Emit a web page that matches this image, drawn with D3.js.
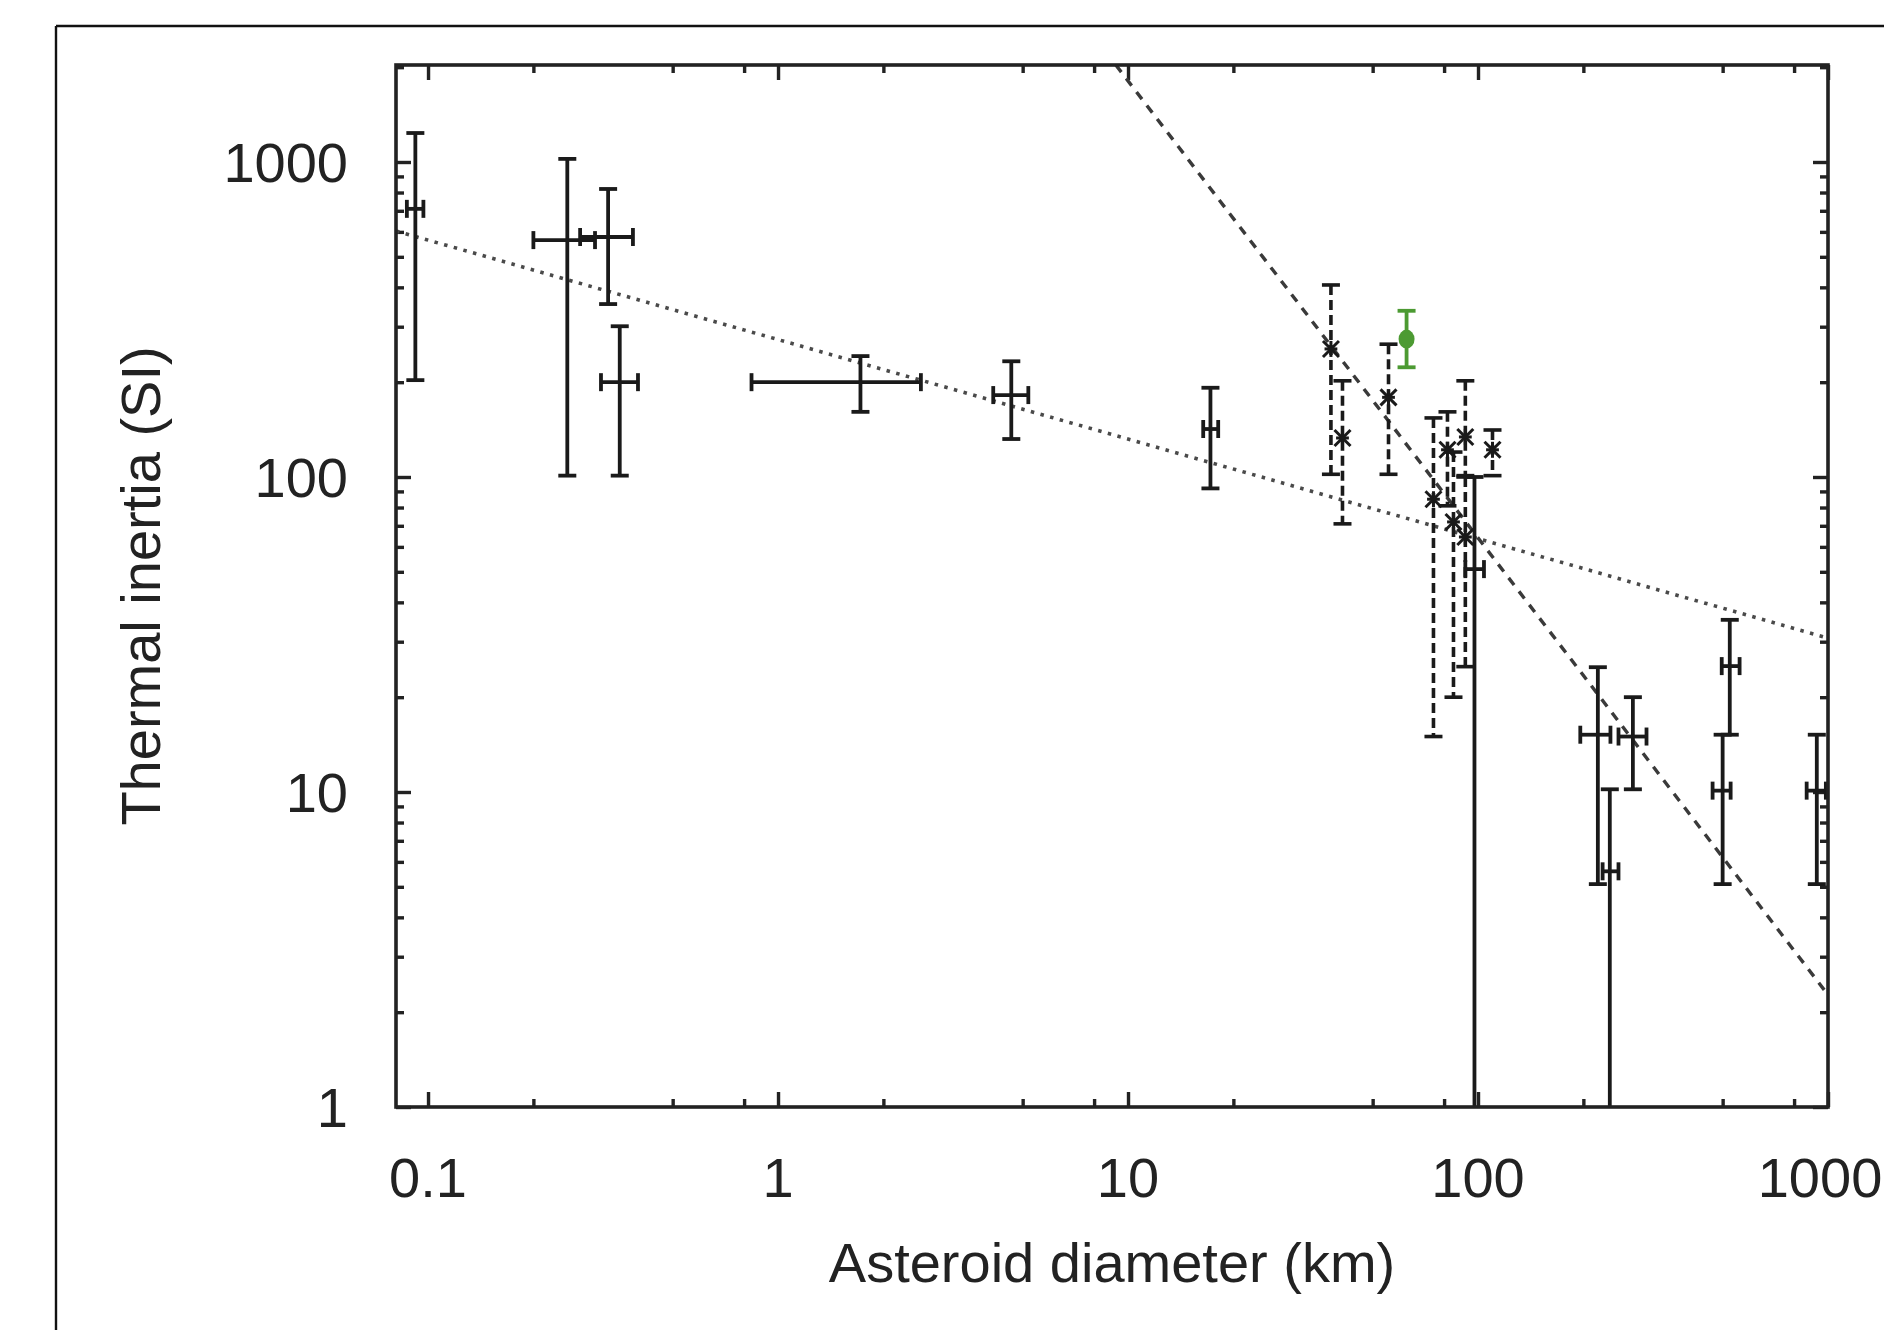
<!DOCTYPE html>
<html>
<head>
<meta charset="utf-8">
<script src="https://cdn.jsdelivr.net/npm/d3@7"></script>
<style>
  html, body { margin: 0; padding: 0; background: #fff; }
  svg { display: block; }
  text { font-family: "Liberation Sans", Arial, Helvetica, sans-serif; fill: #222; }
</style>
</head>
<body>
<svg id="chart" width="1884" height="1330"></svg>
<script>
// ---------------- DATA ----------------
// Solid error bars: [D, Dlo, Dhi, TI, TIlo, TIhi]
const solidPoints = [
  [0.092, 0.087, 0.097, 710, 203, 1236],
  [0.25, 0.20, 0.30, 565, 101, 1023],
  [0.327, 0.272, 0.385, 578, 354, 821],
  [0.353, 0.312, 0.398, 200, 101, 301],
  [1.72, 0.84, 2.56, 200, 161, 242],
  [4.64, 4.12, 5.19, 182, 132, 233],
  [17.2, 16.4, 18.1, 142, 92, 192],
  [97.7, 92, 104, 51, 1, 100],
  [220, 196, 239, 15.2, 5.1, 24.9],
  [238, 227, 252, 5.6, 1, 10.2],
  [277, 252, 303, 15, 10.2, 20],
  [500, 468, 527, 10.1, 5.1, 15.2],
  [524, 497, 559, 25.1, 15.2, 35.2],
  [929, 869, 986, 10.1, 5.1, 15.2]
];
// Dashed error bars with asterisk markers: [D, TI, TIlo, TIhi]
const dashedPoints = [
  [38.0, 255, 102, 407],
  [41.0, 133, 71, 202],
  [55.5, 179, 102, 264],
  [74.6, 85, 15, 154],
  [81.8, 122, 81, 161],
  [85.1, 72, 20, 120],
  [92.0, 134, 101, 202],
  [92.0, 64.5, 25, 100],
  [110, 122, 101, 141]
];
// Highlighted (green) point: [D, TI, TIlo, TIhi]
const greenPoints = [
  [62.5, 274, 223, 337]
];
// Fit lines (endpoints): [D, TI]
const fitDotted = [[0.081, 604], [1000, 30.8]];
const fitDashed = [[9.23, 2032], [1000, 2.27]];

const xMajorTicks = [0.1, 1, 10, 100, 1000];
const xTickLabels = ["0.1", "1", "10", "100", "1000"];
const yMajorTicks = [1, 10, 100, 1000];
const yTickLabels = ["1", "10", "100", "1000"];
const xMinorMult = [2, 5, 8];
const yMinorMult = [2, 3, 4, 5, 6, 7, 8, 9];

const xDomain = [0.081, 1000];
const yDomain = [1, 2032];

// ---------------- LAYOUT ----------------
const L = 396, R = 1828, T = 65, B = 1107;
const svg = d3.select("#chart");
const x = d3.scaleLog().domain(xDomain).range([L, R]);
const y = d3.scaleLog().domain(yDomain).range([B, T]);

// outer frame (top + left lines)
svg.append("line").attr("x1", 56).attr("x2", 1884).attr("y1", 26).attr("y2", 26)
  .attr("stroke", "#111").attr("stroke-width", 2.4);
svg.append("line").attr("x1", 56).attr("x2", 56).attr("y1", 26).attr("y2", 1330)
  .attr("stroke", "#111").attr("stroke-width", 2.4);

// minor tick values
const xMinor = [];
[0.01, 0.1, 1, 10, 100].forEach(p => xMinorMult.forEach(m => {
  const v = +(p * m).toPrecision(3);
  if (v >= xDomain[0] && v <= xDomain[1]) xMinor.push(v);
}));
const yMinor = [];
[1, 10, 100, 1000].forEach(p => yMinorMult.forEach(m => {
  const v = p * m;
  if (v >= yDomain[0] && v <= yDomain[1]) yMinor.push(v);
}));

const axisColor = "#222";
function styleAxis(g) {
  g.select(".domain").remove();
  g.selectAll(".tick line").attr("stroke", axisColor).attr("stroke-width", 3.4);
  g.selectAll(".tick text").remove();
}
// bottom
svg.append("g").attr("transform", `translate(0,${B})`)
  .call(d3.axisBottom(x).tickValues(xMajorTicks).tickSize(-15).tickFormat("")).call(styleAxis);
svg.append("g").attr("transform", `translate(0,${B})`)
  .call(d3.axisBottom(x).tickValues(xMinor).tickSize(-8).tickFormat("")).call(styleAxis);
// top
svg.append("g").attr("transform", `translate(0,${T})`)
  .call(d3.axisTop(x).tickValues(xMajorTicks).tickSize(-15).tickFormat("")).call(styleAxis);
svg.append("g").attr("transform", `translate(0,${T})`)
  .call(d3.axisTop(x).tickValues(xMinor).tickSize(-8).tickFormat("")).call(styleAxis);
// left
svg.append("g").attr("transform", `translate(${L},0)`)
  .call(d3.axisLeft(y).tickValues(yMajorTicks).tickSize(-15).tickFormat("")).call(styleAxis);
svg.append("g").attr("transform", `translate(${L},0)`)
  .call(d3.axisLeft(y).tickValues(yMinor).tickSize(-8).tickFormat("")).call(styleAxis);
// right
svg.append("g").attr("transform", `translate(${R},0)`)
  .call(d3.axisRight(y).tickValues(yMajorTicks).tickSize(-15).tickFormat("")).call(styleAxis);
svg.append("g").attr("transform", `translate(${R},0)`)
  .call(d3.axisRight(y).tickValues(yMinor).tickSize(-8).tickFormat("")).call(styleAxis);

// tick labels (last label kept inside the page)
svg.append("g").selectAll("text").data(xMajorTicks).join("text")
  .attr("x", d => Math.min(x(d), 1882 - 62)).attr("y", 1197).attr("text-anchor", "middle")
  .attr("font-size", 56).text((d, i) => xTickLabels[i]);
svg.append("g").selectAll("text").data(yMajorTicks).join("text")
  .attr("x", 348).attr("y", d => y(d) + 20).attr("text-anchor", "end")
  .attr("font-size", 56).text((d, i) => yTickLabels[i]);

// axis titles
svg.append("text").attr("x", (L + R) / 2).attr("y", 1282).attr("text-anchor", "middle")
  .attr("font-size", 56).text("Asteroid diameter (km)");
svg.append("text").attr("transform", `translate(160,${(T + B) / 2}) rotate(-90)`)
  .attr("text-anchor", "middle").attr("font-size", 56).text("Thermal inertia (SI)");

// clip
svg.append("defs").append("clipPath").attr("id", "plotclip")
  .append("rect").attr("x", L).attr("y", T).attr("width", R - L).attr("height", B - T);
const plot = svg.append("g").attr("clip-path", "url(#plotclip)");

// fit lines
const line = d3.line().x(d => x(d[0])).y(d => y(d[1]));
plot.append("path").datum(fitDotted).attr("d", line).attr("fill", "none")
  .attr("stroke", "#4a4a4a").attr("stroke-width", 3.6).attr("stroke-dasharray", "3.5,6.5");
plot.append("path").datum(fitDashed).attr("d", line).attr("fill", "none")
  .attr("stroke", "#3a3a3a").attr("stroke-width", 3.4).attr("stroke-dasharray", "9,8");

const barColor = "#1a1a1a";
const cap = 9;
// solid error bars
const sg = plot.append("g").attr("stroke", barColor).attr("stroke-width", 3.8).attr("fill", "none");
solidPoints.forEach(p => {
  const [d, dlo, dhi, ti, tlo, thi] = p;
  const cx = x(d), cy = y(ti);
  const yl = y(Math.max(tlo, yDomain[0])), yh = y(thi);
  const xl = x(dlo), xh = x(dhi);
  const g = sg.append("g");
  g.append("line").attr("x1", cx).attr("x2", cx).attr("y1", yl).attr("y2", yh);
  g.append("line").attr("x1", cx - cap).attr("x2", cx + cap).attr("y1", yh).attr("y2", yh);
  if (tlo > yDomain[0]) g.append("line").attr("x1", cx - cap).attr("x2", cx + cap).attr("y1", yl).attr("y2", yl);
  g.append("line").attr("x1", xl).attr("x2", xh).attr("y1", cy).attr("y2", cy);
  g.append("line").attr("x1", xl).attr("x2", xl).attr("y1", cy - cap).attr("y2", cy + cap);
  g.append("line").attr("x1", xh).attr("x2", xh).attr("y1", cy - cap).attr("y2", cy + cap);
});

// dashed error bars with asterisks
const dg = plot.append("g").attr("stroke", barColor).attr("stroke-width", 3.6).attr("fill", "none");
dashedPoints.forEach(p => {
  const [d, ti, tlo, thi] = p;
  const cx = x(d), cy = y(ti), yl = y(tlo), yh = y(thi);
  const g = dg.append("g");
  g.append("line").attr("x1", cx).attr("x2", cx).attr("y1", yh).attr("y2", yl)
    .attr("stroke-dasharray", "10,5");
  g.append("line").attr("x1", cx - cap).attr("x2", cx + cap).attr("y1", yh).attr("y2", yh);
  g.append("line").attr("x1", cx - cap).attr("x2", cx + cap).attr("y1", yl).attr("y2", yl);
  const s = 8;
  const a = g.append("g").attr("stroke-width", 3);
  a.append("line").attr("x1", cx).attr("x2", cx).attr("y1", cy - s).attr("y2", cy + s);
  a.append("line").attr("x1", cx - s).attr("x2", cx + s).attr("y1", cy - s).attr("y2", cy + s);
  a.append("line").attr("x1", cx - s).attr("x2", cx + s).attr("y1", cy + s).attr("y2", cy - s);
  a.append("line").attr("x1", cx - s * 0.8).attr("x2", cx + s * 0.8).attr("y1", cy).attr("y2", cy);
});

// green point
const green = "#4c9a32";
const gg = plot.append("g").attr("stroke", green).attr("stroke-width", 3.8).attr("fill", "none");
greenPoints.forEach(p => {
  const [d, ti, tlo, thi] = p;
  const cx = x(d), cy = y(ti), yl = y(tlo), yh = y(thi);
  gg.append("line").attr("x1", cx).attr("x2", cx).attr("y1", yh).attr("y2", yl);
  gg.append("line").attr("x1", cx - 9).attr("x2", cx + 9).attr("y1", yh).attr("y2", yh);
  gg.append("line").attr("x1", cx - 9).attr("x2", cx + 9).attr("y1", yl).attr("y2", yl);
  gg.append("ellipse").attr("cx", cx).attr("cy", cy).attr("rx", 8).attr("ry", 9.5)
    .attr("fill", green).attr("stroke", "none");
});

// plot frame
svg.append("rect").attr("x", L).attr("y", T).attr("width", R - L).attr("height", B - T)
  .attr("fill", "none").attr("stroke", axisColor).attr("stroke-width", 3.6);
</script>
</body>
</html>
